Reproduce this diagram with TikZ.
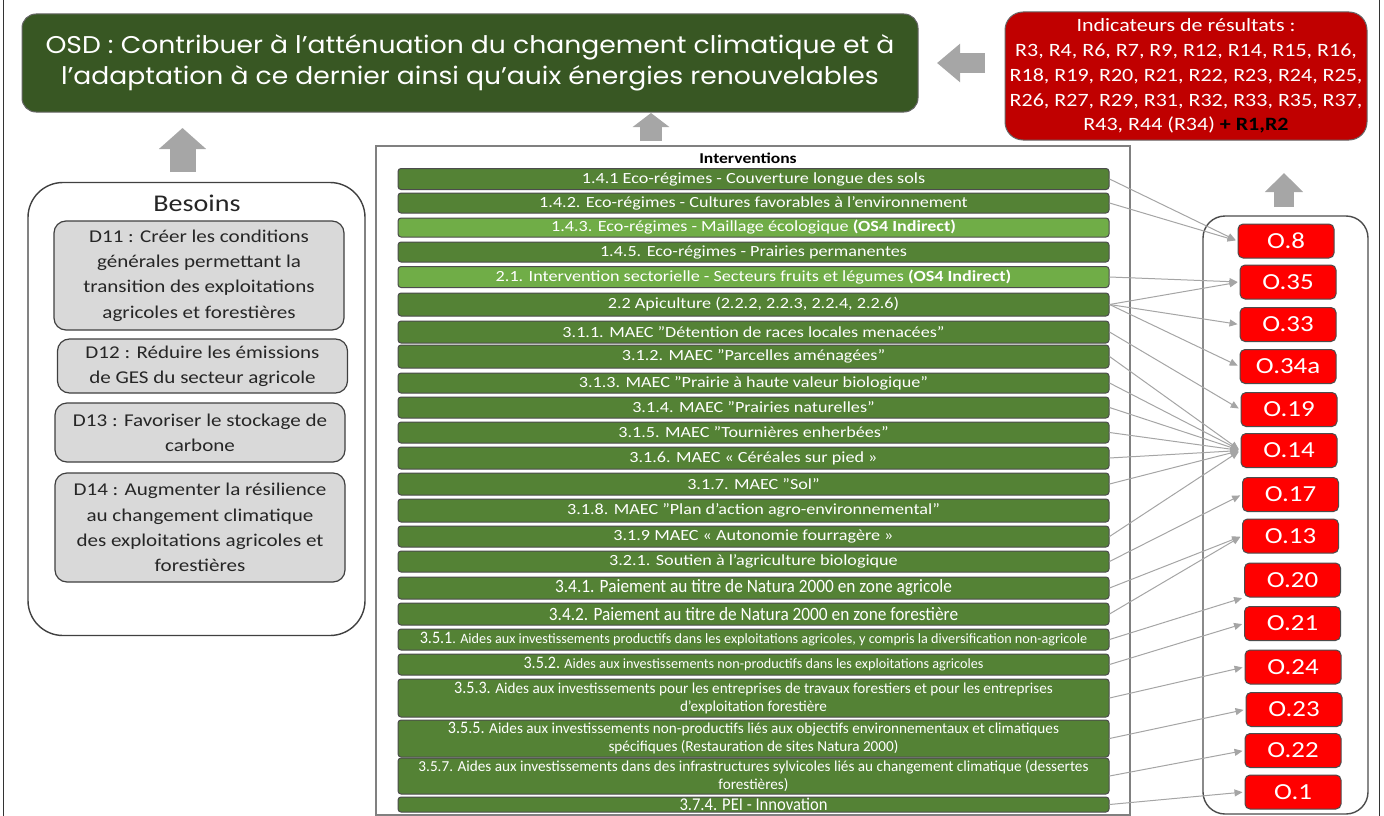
\documentclass[tikz,border=0pt]{standalone}
\usepackage{fontspec}
\setmainfont{Carlito}[FakeStretch=1.17]
\newfontfamily\gothic{Poppins}[FakeStretch=1.1]
\newfontfamily\narrow{Carlito}
\newfontfamily\condensed{Carlito}[FakeStretch=0.92]
\usepackage{xcolor}
\usetikzlibrary{arrows.meta}
\definecolor{cosd}     {RGB}{56, 87, 35}
\definecolor{cbar}     {RGB}{84,130, 53}
\definecolor{cbarlight}{RGB}{112,173,71}
\definecolor{cind}     {RGB}{192, 0,  0}
\definecolor{cout}     {RGB}{255, 0,  0}
\definecolor{cneed}    {RGB}{217,217,217}
\definecolor{cblk}     {RGB}{166,166,166}
\definecolor{cline}    {RGB}{165,165,165}
\newcommand{\fsz}[2]{\fontsize{#1pt}{#2pt}\selectfont}
\newcommand{\ivsmall}{\narrow\fsz{15.2}{18}}
\newcommand{\ivtiny}{\narrow\fsz{14.2}{18}}
\newcommand{\ivnum}{\condensed\fsz{17.5}{18}}
\tikzset{
  osdbox/.style={rectangle, rounded corners=14pt, draw=black!60, line width=1pt,
                 fill=cosd, text=white, align=center, inner sep=0pt,
                 font=\gothic\fsz{24.2}{31}},
  indbox/.style={rectangle, rounded corners=18pt, draw=black!60, line width=1pt,
                 fill=cind, text=white, align=center, inner sep=0pt,
                 font=\fsz{18.8}{24.8}},
  grp/.style={rectangle, draw=#1, line width=1.4pt, fill=white, inner sep=0pt},
  needbox/.style={rectangle, rounded corners=12pt, draw=black!75, line width=1.2pt,
                  fill=cneed, text=black!85, align=center, inner sep=0pt,
                  minimum width=290pt, font=\fsz{18}{25.3}},
  ivbox/.style={rectangle, rounded corners=3pt, draw=black!70, line width=1pt,
                fill=#1, text=white, align=center, inner sep=0pt,
                minimum width=711pt, font=\fsz{15.5}{18}},
  ivbox/.default=cbar,
  outbox/.style={rectangle, rounded corners=5pt, draw=black!70, line width=1pt,
                 fill=cout, text=white, inner sep=0pt,
                 minimum width=96pt, minimum height=34pt, font=\fsz{23}{26}},
  arr/.style={-{Triangle[length=8pt,width=7pt]}, line width=1pt, color=cline, shorten >=2pt},
  blk/.style={draw=cblk, line width=#1},
}

\begin{document}
\begin{tikzpicture}[x=1pt, y=-1pt]
  \useasboundingbox (0,0) rectangle (1384,816);
  % ── page edges ─────────────────────────────────────────────────────────────
  \draw[black!80, line width=1pt] (3,0) -- (3,816);
  \draw[black!80, line width=1pt] (1379,0) -- (1379,816);

  % ── Objective + result indicators ──────────────────────────────────────────
  \node[osdbox, minimum width=896pt, minimum height=98pt] at (470,63) (osd)
      {OSD : Contribuer à l’atténuation du changement climatique et à\\
       l’adaptation à ce dernier ainsi qu’auix énergies renouvelables};
  \node[indbox, minimum width=362pt, minimum height=128pt] at (1186,76) (ind)
      {Indicateurs de résultats :\\
       R3, R4, R6, R7, R9, R12, R14, R15, R16,\\
       R18, R19, R20, R21, R22, R23, R24, R25,\\
       R26, R27, R29, R31, R32, R33, R35, R37,\\
       R43, R44 (R34) {\color{black}\bfseries + R1,R2}};

  % ── Group frames ───────────────────────────────────────────────────────────
  \node[grp=black!75, rounded corners=35pt, minimum width=337pt, minimum height=453pt]
      at (196.5,409) (besoins) {};
  \node[grp=black!50, minimum width=754pt, minimum height=669pt]
      at (753,480.5) (ivgrp) {};
  \node[grp=black!70, rounded corners=22pt, minimum width=165pt, minimum height=598pt]
      at (1285.5,515) (outgrp) {};

  % ── Besoins ────────────────────────────────────────────────────────────────
  \node[font=\fsz{24}{28}, text=black!85] at (197,203) (besoinsT) {Besoins};
  \node[needbox, minimum height=109pt] at (199,275.5) (d11)
      {D11 : Créer les conditions\\générales permettant la\\transition des exploitations\\agricoles et forestières};
  \node[needbox, minimum height=54pt] at (202.5,366) (d12)
      {D12 : Réduire les émissions\\de GES du secteur agricole};
  \node[needbox, minimum height=59pt] at (200,432.5) (d13)
      {D13 : Favoriser le stockage de\\carbone};
  \node[needbox, minimum height=109pt] at (200,527.5) (d14)
      {D14 : Augmenter la résilience\\au changement climatique\\des exploitations agricoles et\\forestières};

  % ── Interventions ──────────────────────────────────────────────────────────
  \node[font=\bfseries\fsz{15}{18}] at (748,158) (ivT) {Interventions};
  \node[ivbox, minimum height=21pt] at (753.5,179) (i141)
      {1.4.1 Eco-régimes - Couverture longue des sols};
  \node[ivbox, minimum height=20pt] at (753.5,203) (i142)
      {1.4.2. Eco-régimes - Cultures favorables à l’environnement};
  \node[ivbox=cbarlight, minimum height=19pt] at (753.5,227.5) (i143)
      {1.4.3. Eco-régimes - Maillage écologique \textbf{(OS4 Indirect)}};
  \node[ivbox, minimum height=20pt] at (753.5,252) (i145)
      {1.4.5. Eco-régimes - Prairies permanentes};
  \node[ivbox=cbarlight, minimum height=21pt] at (753.5,277) (i21)
      {2.1. Intervention sectorielle - Secteurs fruits et légumes \textbf{(OS4 Indirect)}};
  \node[ivbox, minimum height=23pt] at (753.5,304.5) (i22)
      {2.2 Apiculture (2.2.2, 2.2.3, 2.2.4, 2.2.6)};
  \node[ivbox, minimum height=22pt] at (753.5,332) (i311)
      {3.1.1. MAEC "Détention de races locales menacées"};
  \node[ivbox, minimum height=23pt] at (753.5,356.5) (i312)
      {3.1.2. MAEC "Parcelles aménagées"};
  \node[ivbox, minimum height=20pt] at (753.5,383) (i313)
      {3.1.3. MAEC "Prairie à haute valeur biologique"};
  \node[ivbox, minimum height=21pt] at (753.5,407.5) (i314)
      {3.1.4. MAEC "Prairies naturelles"};
  \node[ivbox, minimum height=21pt] at (753.5,432.5) (i315)
      {3.1.5. MAEC "Tournières enherbées"};
  \node[ivbox, minimum height=22pt] at (753.5,458) (i316)
      {3.1.6. MAEC « Céréales sur pied »};
  \node[ivbox, minimum height=22pt] at (753.5,484) (i317)
      {3.1.7. MAEC "Sol"};
  \node[ivbox, minimum height=23pt] at (753.5,510.5) (i318)
      {3.1.8. MAEC "Plan d’action agro-environnemental"};
  \node[ivbox, minimum height=21pt] at (753.5,536.5) (i319)
      {3.1.9 MAEC « Autonomie fourragère »};
  \node[ivbox, minimum height=21pt] at (753.5,561.5) (i321)
      {3.2.1. Soutien à l'agriculture biologique};
  \node[ivbox, minimum height=22pt, font=\condensed\fsz{18.8}{20}] at (753.5,588) (i341)
      {3.4.1. Paiement au titre de Natura 2000 en zone agricole};
  \node[ivbox, minimum height=22pt, font=\condensed\fsz{18.8}{20}] at (753.5,614) (i342)
      {3.4.2. Paiement au titre de Natura 2000 en zone forestière};
  \node[ivbox, minimum height=21pt, font=\ivtiny] at (753.5,639.5) (i351)
      {{\ivnum 3.5.1}. Aides aux investissements productifs dans les exploitations agricoles, y compris la diversification non-agricole};
  \node[ivbox, minimum height=21pt, font=\ivtiny] at (753.5,664.5) (i352)
      {{\ivnum 3.5.2.} Aides aux investissements non-productifs dans les exploitations agricoles};
  \node[ivbox, minimum height=38pt, font=\ivsmall] at (753.5,698) (i353)
      {{\ivnum 3.5.3.} Aides aux investissements pour les entreprises de travaux forestiers et pour les entreprises\\
       d’exploitation forestière};
  \node[ivbox, minimum height=37pt, font=\ivsmall] at (753.5,738.5) (i355)
      {{\ivnum 3.5.5.} Aides aux investissements non-productifs liés aux objectifs environnementaux et climatiques\\
       spécifiques (Restauration de sites Natura 2000)};
  \node[ivbox, minimum height=36pt, font=\ivsmall] at (753.5,776) (i357)
      {3.5.7. Aides aux investissements dans des infrastructures sylvicoles liés au changement climatique (dessertes\\
       forestières)};
  \node[ivbox, minimum height=15pt, font=\condensed\fsz{18}{15}] at (753.5,804.5) (i374)
      {3.7.4. PEI - Innovation};

  % ── Outputs ────────────────────────────────────────────────────────────────
  \node[outbox] at (1286,241)   (o8)   {O.8};
  \node[outbox] at (1288,282)   (o35)  {O.35};
  \node[outbox] at (1288,324.5) (o33)  {O.33};
  \node[outbox] at (1288,366.5) (o34a) {O.34a};
  \node[outbox] at (1289,409.5) (o19)  {O.19};
  \node[outbox] at (1289,450.5) (o14)  {O.14};
  \node[outbox] at (1290.5,494.5) (o17) {O.17};
  \node[outbox] at (1290.5,536) (o13)  {O.13};
  \node[outbox] at (1292.5,580) (o20)  {O.20};
  \node[outbox] at (1292.5,623.5) (o21) {O.21};
  \node[outbox] at (1293,667)   (o24)  {O.24};
  \node[outbox] at (1294,709.5) (o23)  {O.23};
  \node[outbox] at (1293,750.5) (o22)  {O.22};
  \node[outbox] at (1293,792)   (o1)   {O.1};

  % ── Block arrows ───────────────────────────────────────────────────────────
  \coordinate (needsUp) at (182.5,172);
  \coordinate (ivUp)    at (651,141);
  \coordinate (outUp)   at (1284,207);
  \coordinate (indLeft) at (985,63);
  \draw[blk=26pt, -{Triangle[length=21pt,width=46pt]}] (needsUp) -- ++(0,-44);
  \draw[blk=22pt, -{Triangle[length=14pt,width=36pt]}] (ivUp) -- ++(0,-28);
  \draw[blk=20pt, -{Triangle[length=19pt,width=37pt]}] (outUp) -- ++(0,-34);
  \draw[blk=20pt, -{Triangle[length=23pt,width=37pt]}] (indLeft) -- ++(-48,0);

  % ── Interventions to outputs ───────────────────────────────────────────────
  \draw[arr] (i141.east) -- (o8.west);
  \draw[arr] (i142.east) -- (o8.west);
  \draw[arr] (i21.east)  -- (o35.west);
  \draw[arr] (i22.east)  -- (o35.west);
  \draw[arr] (i22.east)  -- (o33.west);
  \draw[arr] (i22.east)  -- (o34a.west);
  \draw[arr] (i311.east) -- (o19.west);
  \draw[arr] (i312.east) -- (o14.west);
  \draw[arr] (i313.east) -- (o14.west);
  \draw[arr] (i314.east) -- (o14.west);
  \draw[arr] (i315.east) -- (o14.west);
  \draw[arr] (i316.east) -- (o14.west);
  \draw[arr] (i317.east) -- (o14.west);
  \draw[arr] (i319.east) -- (o14.west);
  \draw[arr] (i321.east) -- (o17.west);
  \draw[arr] (i341.east) -- (o13.west);
  \draw[arr] (i342.east) -- (o13.west);
  \draw[arr] (i351.east) -- (o20.south west);
  \draw[arr] (i352.east) -- (o21.west);
  \draw[arr] (i353.east) -- (o24.west);
  \draw[arr] (i355.east) -- (o23.west);
  \draw[arr] (i357.east) -- (o22.west);
  \draw[arr] (i374.east) -- (o1.west);
\end{tikzpicture}
\end{document}
